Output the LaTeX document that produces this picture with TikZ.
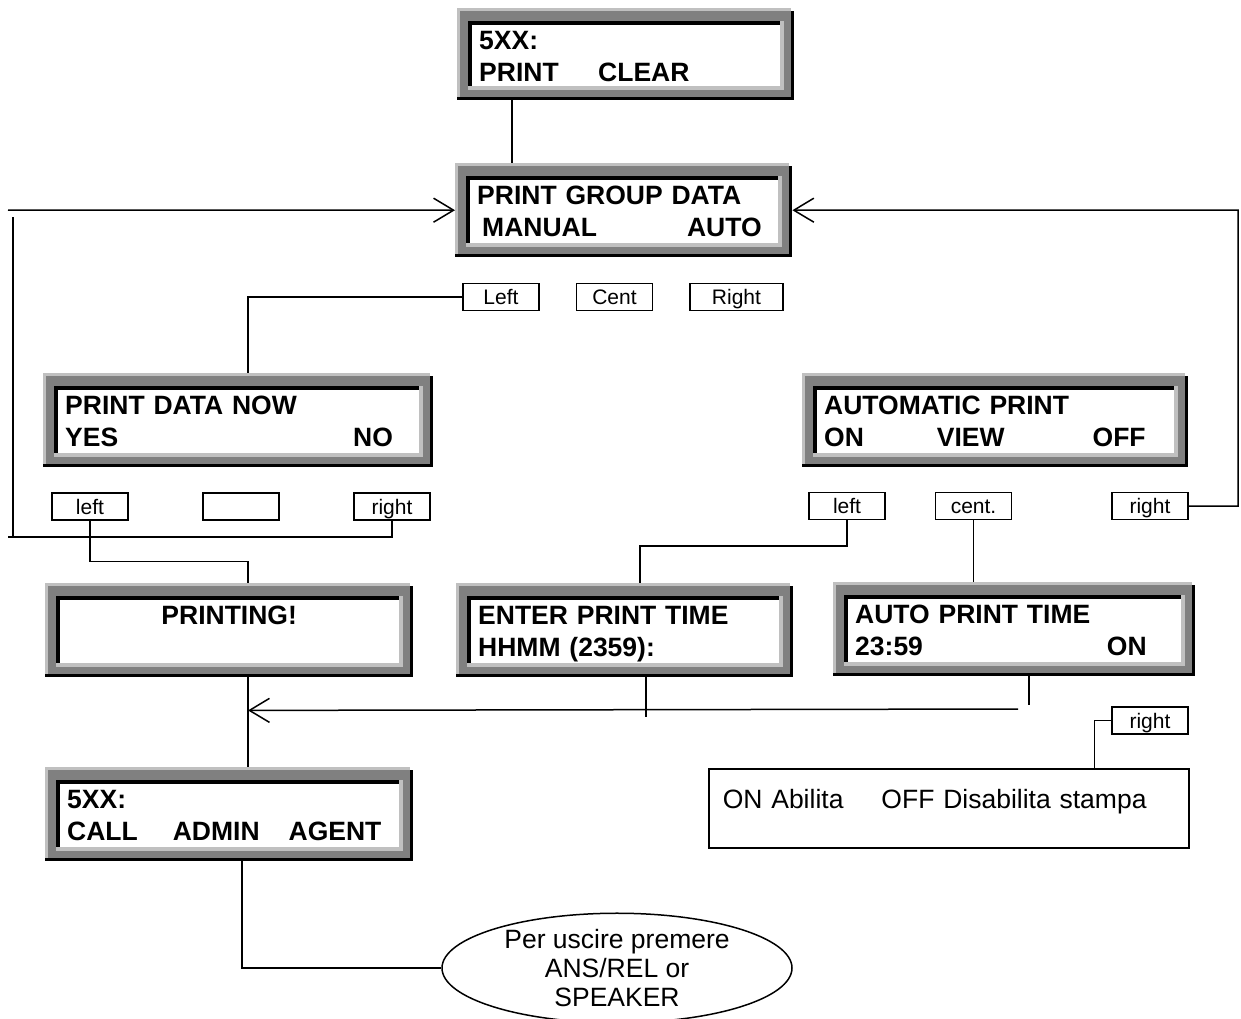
\documentclass[tikz,border=0pt]{standalone}
\usepackage{fontspec}
\setmainfont{Liberation Sans}
\usetikzlibrary{positioning,arrows.meta,calc,shapes.geometric}
\definecolor{bevel}{HTML}{C0C0C0}
\definecolor{rim}{HTML}{808080}
\newcommand{\lcdfont}{\fontsize{26.5}{32}\selectfont\bfseries}
\newcommand{\keyfont}{\fontsize{21}{24}\selectfont}
\newcommand{\notefont}{\fontsize{26.5}{29}\selectfont}

\begin{document}
\begin{tikzpicture}[x=1pt, y=-1pt,
    lcd/.style={anchor=north west, fill=white, inner xsep=22pt, inner ysep=0pt, align=left,
        font=\lcdfont, text height=41pt, text depth=53pt,
        path picture={
            \coordinate (lcdnw) at (path picture bounding box.north west);
            \coordinate (lcdse) at (path picture bounding box.south east);
            \fill[black] ($(lcdnw)+(0,3)$) rectangle (lcdse);
            \fill[bevel] (lcdnw) rectangle ($(lcdse)+(-3,-3)$);
            \fill[rim] ($(lcdnw)+(3,3)$) rectangle ($(lcdse)+(-3,-3)$);
            \fill[bevel] ($(lcdnw)+(11,13)$) rectangle ($(lcdse)+(-10,-10)$);
            \fill[black] ($(lcdnw)+(11,13)$) rectangle ($(lcdse)+(-14,-14)$);
            \fill[white] ($(lcdnw)+(15,17)$) rectangle ($(lcdse)+(-14,-14)$);
        }},
    key/.style={draw, line width=1.2pt, font=\keyfont, minimum width=76pt, minimum height=27pt,
        inner sep=0pt, text height=15pt, text depth=0pt},
    wire/.style={line width=1.5pt},
    arr/.style={wire, -{Straight Barb[length=20pt, width=24pt]}},
]
\useasboundingbox (0,0) rectangle (1241,1018);

% === Menu displays ===
\node[lcd, text width=293pt, text depth=51pt] (top) at (457,8) {5XX:\\PRINT\hspace{39.5pt}CLEAR};
\node[lcd, text width=293pt] (grp) at (455,163) {PRINT GROUP DATA\\\hspace*{5pt}MANUAL\hspace{90pt}AUTO};

\node[key] (kL) at (501,297) {Left};
\node[key] (kC) at (614.5,297) {Cent};
\node[key, minimum width=93pt] (kR) at (736.5,297) {Right};

\node[lcd, text width=346pt] (now) at (43,373) {PRINT DATA NOW\\YES\hspace{235pt}NO};
\node[lcd, text width=342pt] (aut) at (802,373) {AUTOMATIC PRINT\\ON\hspace{73pt}VIEW\hspace{88pt}OFF};

\node[key] (nowL) at (90,506.5) {left};
\node[key] (nowC) at (241,506.5) {};
\node[key] (nowR) at (392,506.5) {right};
\node[key] (autL) at (847,506) {left};
\node[key] (autC) at (973.5,506) {cent.};
\node[key] (autR) at (1150,506) {right};

\node[lcd, text width=324pt, align=center] (prt) at (45,583) {PRINTING!};
\node[lcd, text width=293pt] (tim) at (456,583) {ENTER PRINT TIME\\HHMM (2359):};
\node[lcd, text width=318pt] (ato) at (833,582) {AUTO PRINT TIME\\23:59\hspace{184pt}ON};

\node[key] (onR) at (1150,720.5) {right};
\node[draw, line width=1.5pt, anchor=north west, font=\notefont, inner xsep=14pt, inner ysep=0pt,
    text width=452pt, align=left, text height=40pt, text depth=39pt] (note) at (708,768)
    {ON Abilita\hspace{38pt}OFF Disabilita stampa};

\node[lcd, text width=324pt] (adm) at (45,767) {5XX:\\CALL\hspace{35pt}ADMIN\hspace{29pt}AGENT};
\node[draw, ellipse, line width=1.5pt, minimum width=350pt, minimum height=102pt, inner sep=0pt,
    align=center, font=\notefont] (exit) at (617,968) {Per uscire premere\\ANS/REL or\\SPEAKER};

% === Connectors ===
\draw[wire] ($(top.south west)+(55,0)$) coordinate (c1) -- (c1 |- grp.north);

% loop back from NO
\coordinate (loopA) at (8,537);
\coordinate (loopB) at (13,537);
\coordinate (loopC) at (13,217);
\coordinate (loopD) at (8,210);
\draw[wire] (nowR.south) |- (loopA);
\draw[wire] (loopB) -- (loopC);
\draw[arr] (loopD) -- (grp.west);

% loop back from OFF
\coordinate (loopE) at (1238,210);
\draw[arr] (autR.east) -| (loopE) -- (grp.east);

\draw[wire] (kL.west) -| ($(now.north west)+(205,0)$);
\draw[wire] (nowL.south) -- ++(0,41) -| ($(prt.north west)+(203,0)$);
\draw[wire] (autL.south) -- ++(0,26) -| ($(tim.north west)+(184,0)$);
\draw[wire] (autC.south) -- (autC.south |- ato.north);

% return to idle
\draw[wire] ($(prt.south west)+(203,0)$) -- ($(adm.north west)+(203,0)$);
\coordinate (merge) at ($(prt.south west)+(203,33)$);
\coordinate (ret) at (1018,709);
\draw[arr] (ret) -- (merge);
\draw[wire] ($(tim.south west)+(190,0)$) -- ++(0,40);
\draw[wire] ($(ato.south west)+(196,0)$) -- ++(0,29);

\draw[wire] (onR.west) -| ($(note.north east)+(-95,0)$);
\draw[wire] ($(adm.south west)+(197,0)$) |- (exit.west);

\end{tikzpicture}
\end{document}
